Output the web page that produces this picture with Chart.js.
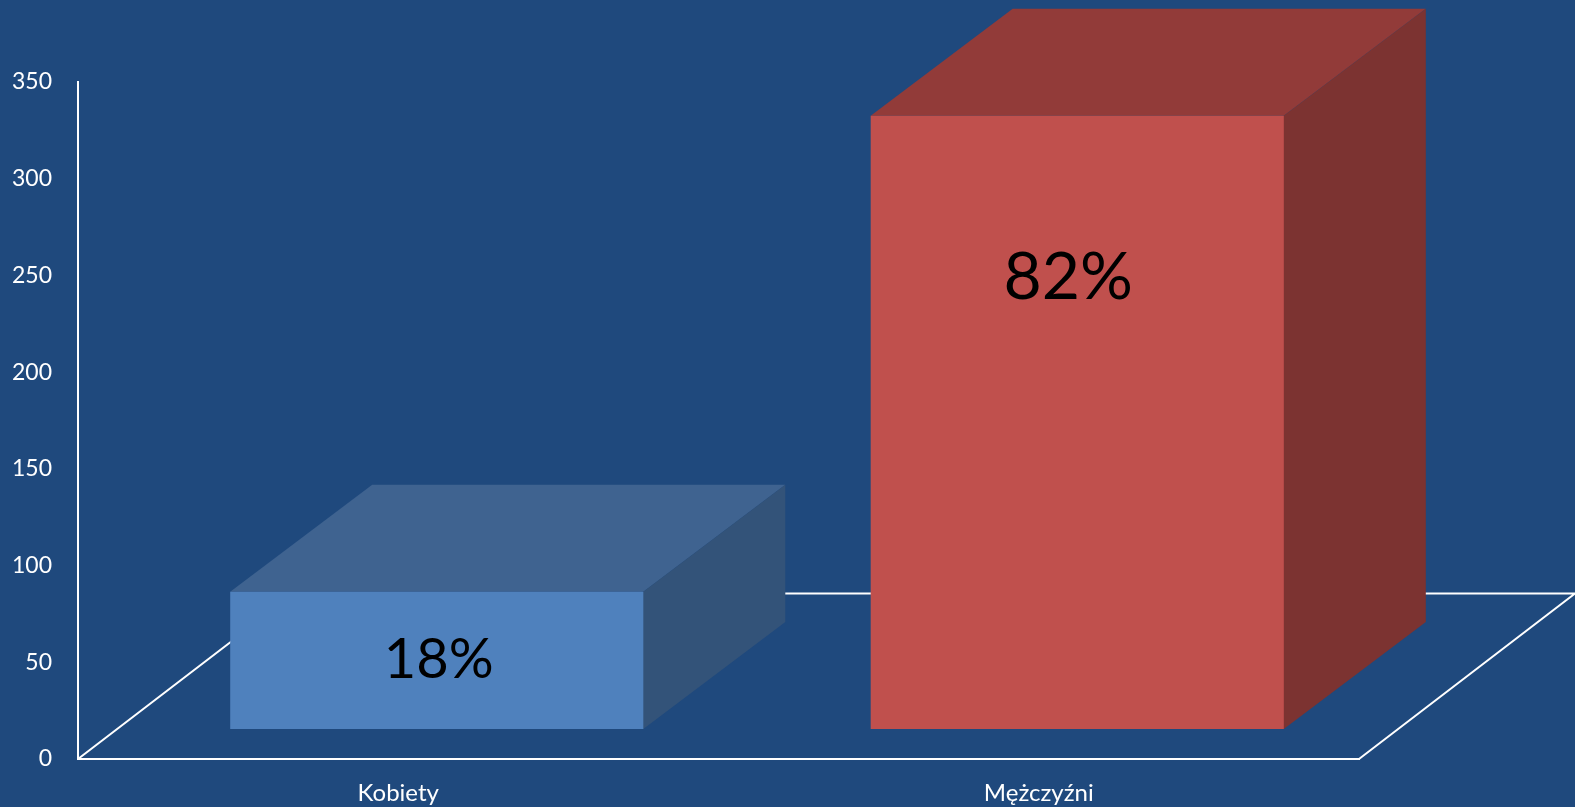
<!DOCTYPE html>
<html lang="pl">
<head>
<meta charset="utf-8">
<title>Kobiety i mężczyźni</title>
<script src="https://cdn.jsdelivr.net/npm/chart.js@4/dist/chart.umd.js"></script>
<style>
  html, body { margin: 0; padding: 0; background: #1F497D; overflow: hidden; }
  canvas { display: block; }
</style>
</head>
<body>
<canvas id="chart" width="1575" height="807"></canvas>
<script>
const categories = ['Kobiety', 'Mężczyźni'];
const counts = [71, 317];
const frontColors = ['#4F81BD', '#C0504D'];
const topColors = ['#3F6390', '#923B39'];
const sideColors = ['#335379', '#7C3331'];

// Oblique projection: floor depth, the inset of the boxes on it, and box depth.
const FLOOR_DX = 216, FLOOR_DY = 165.5;
const INSET_DX = 38.5, INSET_DY = 30;
const BOX_DX = 142, BOX_DY = 107;
const LABEL_MAX_DROP = 162;
const LABEL_SHIFT_X = [2, -9];
const LABEL_FONT_SIZE = [56, 66];

const total = counts.reduce((a, b) => a + b, 0);

const box3d = {
  id: 'box3d',
  beforeDatasetsDraw(chart) {
    const { ctx, chartArea: a } = chart;
    ctx.save();
    // Floor outline
    ctx.strokeStyle = '#FFFFFF';
    ctx.lineWidth = 2;
    ctx.beginPath();
    ctx.moveTo(a.left, a.bottom);
    ctx.lineTo(a.left + FLOOR_DX, a.bottom - FLOOR_DY);
    ctx.lineTo(a.right + FLOOR_DX, a.bottom - FLOOR_DY);
    ctx.lineTo(a.right, a.bottom);
    ctx.stroke();
    // Everything in the dataset layer sits a little way back on the floor
    ctx.translate(INSET_DX, -INSET_DY);
    chart.getDatasetMeta(0).data.forEach((el, i) => {
      const { x, y, base, width } = el.getProps(['x', 'y', 'base', 'width']);
      const l = x - width / 2, r = x + width / 2;
      ctx.fillStyle = topColors[i];
      ctx.beginPath();
      ctx.moveTo(l, y);
      ctx.lineTo(l + BOX_DX, y - BOX_DY);
      ctx.lineTo(r + BOX_DX, y - BOX_DY);
      ctx.lineTo(r, y);
      ctx.closePath();
      ctx.fill();
      // The side face runs a pixel under the front face so no seam shows
      ctx.fillStyle = sideColors[i];
      ctx.beginPath();
      ctx.moveTo(r - 1, y);
      ctx.lineTo(r, y);
      ctx.lineTo(r + BOX_DX, y - BOX_DY);
      ctx.lineTo(r + BOX_DX, base - BOX_DY);
      ctx.lineTo(r, base);
      ctx.lineTo(r - 1, base);
      ctx.closePath();
      ctx.fill();
    });
  },
  afterDatasetsDraw(chart) {
    const { ctx } = chart;
    // Percentage share of each box on its front face
    ctx.fillStyle = '#000000';
    ctx.textAlign = 'center';
    ctx.textBaseline = 'middle';
    chart.getDatasetMeta(0).data.forEach((el, i) => {
      const { x, y, base } = el.getProps(['x', 'y', 'base']);
      const drop = Math.min((base - y) / 2, LABEL_MAX_DROP);
      const share = Math.round(counts[i] / total * 100);
      ctx.font = LABEL_FONT_SIZE[i] + 'px Lato';
      ctx.fillText(share + '%', x + LABEL_SHIFT_X[i], y + drop);
    });
    ctx.restore();
  }
};

new Chart(document.getElementById('chart'), {
  type: 'bar',
  data: {
    labels: categories,
    datasets: [{
      data: counts,
      backgroundColor: frontColors,
      borderWidth: 0,
      categoryPercentage: 1,
      barPercentage: 0.645,
      clip: false
    }]
  },
  plugins: [box3d],
  options: {
    responsive: false,
    animation: false,
    layout: { padding: { top: 82, right: 216, left: 0, bottom: 0 } },
    plugins: { legend: { display: false }, tooltip: { enabled: false } },
    scales: {
      x: {
        afterFit(scale) { scale.height = 48; },
        grid: { display: false },
        border: { display: true, color: '#FFFFFF', width: 2 },
        ticks: { color: '#FFFFFF', font: { family: 'Lato', size: 24 }, padding: 12, maxRotation: 0 }
      },
      y: {
        min: 0,
        max: 350,
        afterFit(scale) { scale.width = 78; },
        grid: { display: false },
        border: { display: true, color: '#FFFFFF', width: 2 },
        ticks: { color: '#FFFFFF', font: { family: 'Lato', size: 23 }, stepSize: 50, padding: 18, crossAlign: 'near' }
      }
    }
  }
});
</script>
</body>
</html>
